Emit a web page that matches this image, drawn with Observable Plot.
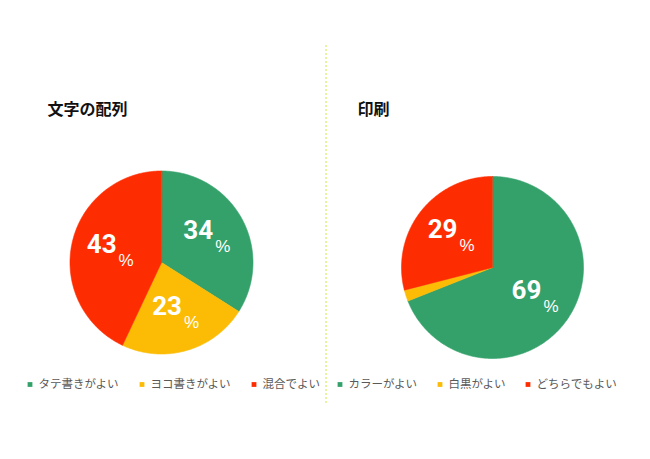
<!DOCTYPE html>
<html><head><meta charset="utf-8">
<script src="https://cdn.jsdelivr.net/npm/d3@7"></script>
<script src="https://cdn.jsdelivr.net/npm/@observablehq/plot@0.6"></script>
<style>
body{margin:0;background:#fff;}
g[aria-label="num"] text{letter-spacing:-1.5px;}
g[aria-label="legend-text"] text{letter-spacing:1px;}
</style>
</head><body><div id="chart"></div>
<script>
const titles = ["文字の配列", "印刷"];
const categoriesA = ["タテ書きがよい", "ヨコ書きがよい", "混合でよい"];
const valuesA = [34, 23, 43];
const categoriesB = ["カラーがよい", "白黒がよい", "どちらでもよい"];
const valuesB = [69, 2, 29];
const colors = ["#34a16b", "#fcbc05", "#fe2c01"];

const W = 650, H = 459;
const panels = [
  {title: titles[0], cats: categoriesA, vals: valuesA, cx: 161, cy: 262, r: 91.5, tx: 47, lx: 27},
  {title: titles[1], cats: categoriesB, vals: valuesB, cx: 492, cy: 267, r: 91, tx: 357, lx: 337}
];
const slicePts = [], labels = [], legend = [], titleRows = [];
panels.forEach((p, pi) => {
  titleRows.push({x: p.tx, y: 114, text: p.title});
  const arcs = d3.pie().sort(null).value(d => d)(p.vals);
  arcs.forEach((a, i) => {
    const key = pi + "-" + i;
    slicePts.push({key, x: p.cx, y: p.cy, color: colors[i]});
    const n = Math.max(2, Math.ceil((a.endAngle - a.startAngle) / 0.01));
    for (let k = 0; k <= n; k++) {
      const t = a.startAngle + (a.endAngle - a.startAngle) * k / n;
      slicePts.push({key, x: p.cx + p.r * Math.sin(t), y: p.cy - p.r * Math.cos(t), color: colors[i]});
    }
    if (a.data >= 5) {
      const m = (a.startAngle + a.endAngle) / 2;
      labels.push({x: p.cx + 0.57 * p.r * Math.sin(m), y: p.cy - 0.57 * p.r * Math.cos(m), text: String(a.data)});
    }
  });
  let x = p.lx;
  p.cats.forEach((c, i) => {
    legend.push({x, y: 384, text: c, color: colors[i]});
    x += 11 + c.length * 12 + 17;
  });
});

const chart = Plot.plot({
  width: W, height: H, margin: 0,
  x: {domain: [0, W], range: [0, W], axis: null},
  y: {domain: [0, H], range: [0, H], axis: null},
  style: {fontFamily: "'Noto Sans CJK JP', 'Noto Sans', sans-serif", background: "#fff", overflow: "visible"},
  marks: [
    Plot.ruleX([325.5], {y1: 45, y2: 405, stroke: "#d4e53a", strokeWidth: 1, strokeDasharray: "2,2"}),
    Plot.line(slicePts, {x: "x", y: "y", z: "key", fill: "color", stroke: "color", strokeWidth: 0.6, curve: "linear-closed"}),
    Plot.text(labels, {x: "x", y: "y", text: "text", dx: 6, dy: 2, textAnchor: "end", lineAnchor: "bottom", fill: "white", fontSize: 26, fontWeight: "bold", fontFamily: "Roboto", ariaLabel: "num"}),
    Plot.text(labels, {x: "x", y: "y", text: () => "%", dx: 8, dy: 15, textAnchor: "start", lineAnchor: "bottom", fill: "white", fontSize: 17, fontFamily: "'Liberation Sans', sans-serif"}),
    Plot.text(titleRows, {x: "x", y: "y", text: "text", textAnchor: "start", lineAnchor: "bottom", fontSize: 16, fontWeight: "bold", fill: "#111"}),
    Plot.dot(legend, {x: d => d.x + 2.5, y: "y", symbol: "square", r: 2.7, fill: "color"}),
    Plot.text(legend, {x: d => d.x + 11, y: "y", text: "text", textAnchor: "start", fill: "#595959", fontSize: 11.5, ariaLabel: "legend-text"})
  ]
});
document.getElementById("chart").appendChild(chart);
</script>
</body></html>
